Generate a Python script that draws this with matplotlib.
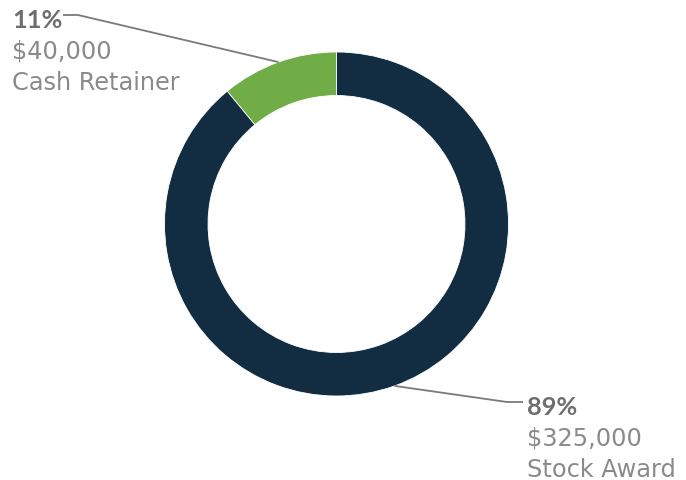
import numpy as np
import matplotlib
matplotlib.use("Agg")
import matplotlib.pyplot as plt

labels = ["Cash Retainer", "Stock Award"]
amounts = [40000, 325000]
percents = ["11%", "89%"]
colors = ["#70ad47", "#122c42"]

W, H = 686, 481
fig = plt.figure(figsize=(W / 100, H / 100), dpi=100)
ax = fig.add_axes([0, 0, 1, 1])

cx, cy, R = 336.5, H - 225, 172
wedges, _ = ax.pie(amounts, colors=colors, startangle=90, counterclock=True,
                   center=(cx, cy), radius=R, frame=True,
                   wedgeprops=dict(width=R * 0.253, linewidth=0.6, edgecolor="white"))
ax.set_xlim(0, W)
ax.set_ylim(0, H)
ax.set_aspect("equal")
ax.axis("off")

text_color = "#8a8a8a"
bold_color = "#6e6e6e"
line_color = "#7a7a7a"
font = ["DejaVu Sans"]
bold_font = ["Lato", "DejaVu Sans"]
fs = 17.3

# label blocks: elbow of the leader, end of its horizontal leg, text origin
layouts = [
    dict(elbow=(78, H - 16), end=(63, H - 16), tx=12, ty=H - 28),
    dict(elbow=(507, H - 403), end=(523, H - 403), tx=527, ty=H - 415),
]

for w, amt, pct, lab, lay in zip(wedges, amounts, percents, labels, layouts):
    mid = np.deg2rad((w.theta1 + w.theta2) / 2)
    px, py = cx + R * np.cos(mid), cy + R * np.sin(mid)
    ex, ey = lay["elbow"]
    hx, hy = lay["end"]
    ax.plot([px, ex, hx], [py, ey, hy], color=line_color, lw=1.3,
            solid_capstyle="butt", zorder=1)
    tx, ty = lay["tx"], lay["ty"]
    ax.text(tx, ty, pct, fontsize=18.3, fontweight="bold", fontstyle="normal",
            color=bold_color, family=bold_font, va="baseline", ha="left")
    ax.text(tx, ty - 31, f"${amt:,}", fontsize=fs, color=text_color,
            family=font, va="baseline", ha="left")
    ax.text(tx, ty - 62, lab, fontsize=fs, color=text_color,
            family=font, va="baseline", ha="left")

fig.savefig("out.png", dpi=100, facecolor="white")
